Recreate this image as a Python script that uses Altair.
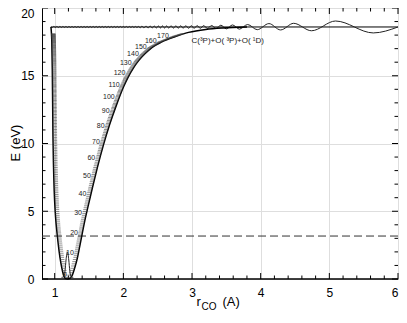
import altair as alt
import numpy as np
import pandas as pd

# ---------------- data ----------------
X_DOMAIN = [0.815, 6.0]
Y_DOMAIN = [0.0, 20.0]

# potential energy curve (r in Angstrom, E in eV)
POT_R = [0.945, 0.958, 0.965, 0.970, 0.975, 0.982, 0.993, 1.007, 1.022, 1.040,
         1.063, 1.089, 1.115, 1.137, 1.160, 1.190, 1.220, 1.250, 1.290, 1.330,
         1.360, 1.395, 1.440, 1.490, 1.550, 1.620, 1.710, 1.800, 1.900, 2.000,
         2.070, 2.150, 2.220, 2.310, 2.420, 2.560, 2.750, 2.950, 3.200, 3.450, 3.800]
POT_E = [18.6, 17.5, 15.5, 13.0, 10.5, 8.5, 6.5, 5.0, 4.0, 3.1,
         2.1, 1.2, 0.55, 0.17, 0.03, 0.0, 0.05, 0.22, 0.8, 1.55,
         2.3, 3.2, 4.35, 5.45, 6.75, 8.2, 9.9, 11.4, 12.85, 14.15,
         14.9, 15.6, 16.1, 16.6, 17.1, 17.5, 17.88, 18.2, 18.42, 18.53, 18.6]

# vibrational level energies (eV), levels 0..180
LEVEL_E = [
    0.12, 0.29, 0.46, 0.63, 0.79, 0.96, 1.12, 1.28, 1.44, 1.60,
    1.75, 1.90, 2.05, 2.20, 2.35, 2.50, 2.65, 2.80, 2.95, 3.10,
    3.25, 3.40, 3.54, 3.69, 3.83, 3.98, 4.12, 4.27, 4.41, 4.56,
    4.70, 4.84, 4.98, 5.12, 5.26, 5.40, 5.54, 5.68, 5.82, 5.96,
    6.10, 6.23, 6.37, 6.50, 6.64, 6.77, 6.91, 7.04, 7.18, 7.31,
    7.45, 7.58, 7.71, 7.84, 7.97, 8.10, 8.23, 8.36, 8.49, 8.62,
    8.75, 8.87, 9.00, 9.12, 9.24, 9.37, 9.49, 9.61, 9.73, 9.86,
    9.98, 10.10, 10.21, 10.33, 10.45, 10.57, 10.68, 10.80, 10.92, 11.03,
    11.15, 11.26, 11.37, 11.48, 11.59, 11.70, 11.81, 11.92, 12.03, 12.14,
    12.25, 12.35, 12.45, 12.56, 12.66, 12.76, 12.86, 12.96, 13.07, 13.17,
    13.27, 13.36, 13.46, 13.55, 13.64, 13.74, 13.83, 13.92, 14.01, 14.11,
    14.20, 14.29, 14.37, 14.46, 14.54, 14.63, 14.71, 14.80, 14.88, 14.97,
    15.05, 15.13, 15.20, 15.28, 15.35, 15.43, 15.50, 15.58, 15.65, 15.73,
    15.80, 15.87, 15.93, 16.00, 16.06, 16.13, 16.19, 16.26, 16.32, 16.39,
    16.45, 16.51, 16.56, 16.62, 16.67, 16.73, 16.78, 16.84, 16.89, 16.95,
    17.00, 17.05, 17.09, 17.14, 17.18, 17.23, 17.27, 17.32, 17.36, 17.41,
    17.45, 17.49, 17.52, 17.56, 17.60, 17.64, 17.67, 17.71, 17.75, 17.78,
    17.82, 17.85, 17.88, 17.91, 17.93, 17.96, 17.99, 18.02, 18.04, 18.07,
    18.10]
LABEL_LEVELS = [0, 10, 20, 30, 40, 50, 60, 70, 80, 90, 100, 110, 120, 130, 140, 150, 160, 170]

DISSOC_E = 18.6
DISSOC_R = [0.945, 6.0]
DASH_E = 3.17
ZERO_E = 0.0

# ground-state wavefunction
GS_R = [1.10, 1.13, 1.15, 1.165, 1.185, 1.205, 1.22, 1.24, 1.27]
GS_E = [0.12, 0.16, 0.6, 1.4, 2.0, 1.4, 0.6, 0.16, 0.12]

# continuum wavefunction: extrema positions and offsets from the dissociation line
WAVE_R = [0.945,
          0.966, 0.988, 1.010, 1.032, 1.054, 1.076, 1.098, 1.120, 1.142, 1.164,
          1.186, 1.208, 1.230, 1.252, 1.274, 1.296, 1.318, 1.340, 1.362, 1.384,
          1.406, 1.428, 1.450, 1.472, 1.494, 1.516, 1.538, 1.560, 1.582, 1.604,
          1.626, 1.648, 1.670, 1.692, 1.714, 1.736, 1.758, 1.780, 1.802, 1.824,
          1.846, 1.868, 1.890, 1.912, 1.934, 1.956, 1.978, 2.000, 2.022, 2.044,
          2.066, 2.088, 2.110, 2.132, 2.154, 2.176, 2.198, 2.220,
          2.245, 2.27, 2.30, 2.33, 2.36, 2.39, 2.42, 2.45, 2.48, 2.51,
          2.54, 2.57, 2.60, 2.63, 2.66, 2.695, 2.73, 2.765, 2.80, 2.835,
          2.87, 2.91, 2.95, 2.99, 3.03, 3.075, 3.12, 3.17, 3.225, 3.285,
          3.35, 3.42, 3.50, 3.59, 3.69, 3.81, 3.95, 4.12, 4.29, 4.48,
          4.74, 5.09, 5.64, 6.0]
WAVE_DE = [0.0,
           -0.04, 0.04, -0.04, 0.04, -0.04, 0.04, -0.04, 0.04, -0.04, 0.04,
           -0.04, 0.04, -0.04, 0.04, -0.04, 0.04, -0.04, 0.04, -0.04, 0.04,
           -0.04, 0.04, -0.04, 0.04, -0.04, 0.04, -0.04, 0.04, -0.04, 0.04,
           -0.04, 0.04, -0.04, 0.04, -0.04, 0.04, -0.04, 0.04, -0.04, 0.04,
           -0.04, 0.04, -0.04, 0.04, -0.04, 0.04, -0.04, 0.04, -0.04, 0.04,
           -0.04, 0.04, -0.04, 0.04, -0.04, 0.04, -0.04, 0.04,
           -0.06, 0.06, -0.065, 0.065, -0.07, 0.07, -0.07, 0.07, -0.075, 0.075,
           -0.075, 0.08, -0.08, 0.08, -0.08, 0.085, -0.085, 0.085, -0.09, 0.09,
           -0.09, 0.09, -0.095, 0.095, -0.1, 0.1, -0.1, 0.1, -0.11, 0.11,
           -0.12, 0.13, -0.14, 0.15, -0.16, 0.18, -0.2, 0.25, -0.22, 0.27,
           -0.28, 0.44, -0.44, 0.0]

ANNOT_TEXT = ["C(³P)+O( ³P)+O( ¹D)"]
ANNOT_R = [3.52]
ANNOT_E = [17.6]

X_MAJOR = [1, 2, 3, 4, 5, 6]
X_MINOR = [1.2, 1.4, 1.6, 1.8, 2.2, 2.4, 2.6, 2.8, 3.2, 3.4, 3.6, 3.8,
           4.2, 4.4, 4.6, 4.8, 5.2, 5.4, 5.6, 5.8]
Y_MAJOR = [0, 5, 10, 15, 20]
Y_MINOR = [1, 2, 3, 4, 6, 7, 8, 9, 11, 12, 13, 14, 16, 17, 18, 19]

X_TITLE_PARTS = ["r", "CO", "(A)"]
Y_TITLE = "E (eV)"

# ---------------- layout ----------------
W, H = 356, 271
FONT = "Liberation Sans"
TICK_MAJ, TICK_MIN = 6, 3.5
LEVEL_TICK = 0.06

xs = alt.Scale(domain=X_DOMAIN, nice=False, zero=False)
ys = alt.Scale(domain=Y_DOMAIN, nice=False, zero=False)
xaxis = alt.Axis(values=X_MAJOR, format="d", grid=True, gridColor="#dedede", gridWidth=1,
                 ticks=False, tickSize=0, domain=False, labelFontSize=12, labelFont=FONT,
                 labelColor="black", labelPadding=8, title=None)
yaxis = alt.Axis(values=Y_MAJOR, format="d", grid=True, gridColor="#dedede", gridWidth=1,
                 ticks=False, tickSize=0, domain=False, labelFontSize=12, labelFont=FONT,
                 labelColor="black", labelPadding=8, title=None,
                 labelBaseline={"condition": {"test": "datum.value == 20", "value": "top"},
                                "value": "middle"})


def X(f):
    return alt.X(f, type="quantitative", scale=xs, axis=xaxis)


def Y(f):
    return alt.Y(f, type="quantitative", scale=ys, axis=yaxis)


pot_df = pd.DataFrame({"r": POT_R, "e": POT_E})

# turning points of each level on the drawn curve
imin = int(np.argmin(POT_E))
lr = np.array(POT_R[: imin + 1])[::-1]
le = np.array(POT_E[: imin + 1])[::-1]
rr = np.array(POT_R[imin:])
re_ = np.array(POT_E[imin:])
lev = np.array(LEVEL_E)
r_left = np.interp(lev, le, lr)
r_right = np.interp(lev, re_, rr)
ticks_df = pd.DataFrame({
    "r": np.concatenate([r_left, r_right - LEVEL_TICK]),
    "r2": np.concatenate([r_left + LEVEL_TICK, r_right]),
    "e": np.concatenate([lev, lev]),
})
lab_df = pd.DataFrame({
    "r": [r_right[n] for n in LABEL_LEVELS],
    "e": [LEVEL_E[n] for n in LABEL_LEVELS],
    "t": [str(n) for n in LABEL_LEVELS],
})
wave_df = pd.DataFrame({"r": WAVE_R, "e": [DISSOC_E + d for d in WAVE_DE]})
gs_df = pd.DataFrame({"r": GS_R, "e": GS_E})

layers = []

# axis tick marks (inward, all four sides)
for vals, L in ((X_MAJOR, TICK_MAJ), (X_MINOR, TICK_MIN)):
    d = pd.DataFrame({"v": vals})
    layers.append(alt.Chart(d).mark_rule(color="black", strokeWidth=1).encode(
        x=X("v"), y=alt.value(H), y2=alt.value(H - L)))
    layers.append(alt.Chart(d).mark_rule(color="black", strokeWidth=1).encode(
        x=X("v"), y=alt.value(0), y2=alt.value(L)))
for vals, L in ((Y_MAJOR, TICK_MAJ), (Y_MINOR, TICK_MIN)):
    d = pd.DataFrame({"v": vals})
    layers.append(alt.Chart(d).mark_rule(color="black", strokeWidth=1).encode(
        y=Y("v"), x=alt.value(0), x2=alt.value(L)))
    layers.append(alt.Chart(d).mark_rule(color="black", strokeWidth=1).encode(
        y=Y("v"), x=alt.value(W), x2=alt.value(W - L)))

# dashed reference line and zero line
layers.append(alt.Chart(pd.DataFrame({"e": [DASH_E]})).mark_rule(
    color="#333", strokeWidth=1, strokeDash=[8, 4]).encode(y=Y("e")))
layers.append(alt.Chart(pd.DataFrame({"e": [ZERO_E]})).mark_rule(
    color="black", strokeWidth=1.5).encode(y=Y("e")))

# dissociation asymptote
layers.append(alt.Chart(pd.DataFrame({"r": [DISSOC_R[0]], "r2": [DISSOC_R[1]], "e": [DISSOC_E]}))
              .mark_rule(color="black", strokeWidth=1).encode(x=X("r"), x2="r2", y=Y("e")))

# continuum wavefunction
layers.append(alt.Chart(wave_df).mark_line(color="#222", strokeWidth=1, interpolate="monotone")
              .encode(x=X("r"), y=Y("e")))

# potential curve
layers.append(alt.Chart(pot_df).mark_line(color="black", strokeWidth=1.5, interpolate="monotone")
              .encode(x=X("r"), y=Y("e")))

# ground-state wavefunction
layers.append(alt.Chart(gs_df).mark_line(color="#222", strokeWidth=1, interpolate="monotone")
              .encode(x=X("r"), y=Y("e")))

# level ticks
layers.append(alt.Chart(ticks_df).mark_rule(color="#444", strokeWidth=0.6)
              .encode(x=X("r"), x2="r2", y=Y("e")))

# level labels
layers.append(alt.Chart(lab_df).mark_text(align="right", baseline="middle", dx=-4, dy=-2,
                                           fontSize=7, font=FONT, color="#222")
              .encode(x=X("r"), y=Y("e"), text="t:N"))

# asymptote annotation
layers.append(alt.Chart(pd.DataFrame({"r": ANNOT_R, "e": ANNOT_E, "t": ANNOT_TEXT}))
              .mark_text(align="center", baseline="middle", fontSize=8, font=FONT, color="#222")
              .encode(x=X("r"), y=Y("e"), text="t:N"))

# axis titles
layers.append(alt.Chart(pd.DataFrame({"t": [X_TITLE_PARTS[0]]})).mark_text(
    align="left", baseline="middle", fontSize=13, font=FONT, color="black").encode(
    x=alt.value(154.5), y=alt.value(H + 23), text="t:N"))
layers.append(alt.Chart(pd.DataFrame({"t": [X_TITLE_PARTS[1]]})).mark_text(
    align="left", baseline="middle", fontSize=10, font=FONT, color="black").encode(
    x=alt.value(159.5), y=alt.value(H + 28), text="t:N"))
layers.append(alt.Chart(pd.DataFrame({"t": [X_TITLE_PARTS[2]]})).mark_text(
    align="left", baseline="middle", fontSize=13, font=FONT, color="black").encode(
    x=alt.value(180.5), y=alt.value(H + 23), text="t:N"))
layers.append(alt.Chart(pd.DataFrame({"t": [Y_TITLE]})).mark_text(
    align="center", baseline="middle", fontSize=13, font=FONT, color="black", angle=270).encode(
    x=alt.value(-26), y=alt.value(135), text="t:N"))

chart = alt.layer(*layers).properties(
    width=W, height=H,
    padding={"left": 34, "top": 0, "right": 1, "bottom": 32},
    autosize=alt.AutoSizeParams(type="none"),
).configure_view(stroke="black", strokeWidth=1)

chart.save("out.html", embed_options={"renderer": "svg", "actions": False})
